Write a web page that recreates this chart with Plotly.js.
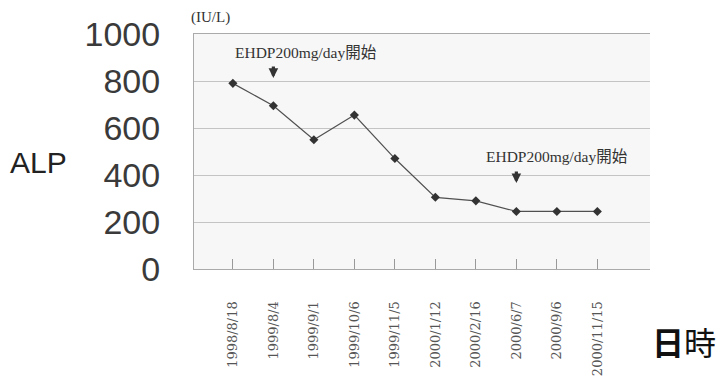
<!DOCTYPE html>
<html>
<head>
<meta charset="utf-8">
<script src="https://cdn.plot.ly/plotly-3.0.1.min.js"></script>
<style>html,body{margin:0;padding:0;background:#fff;}#chart{width:719px;height:377px;}</style>
</head>
<body>
<div id="chart"></div>
<script>
const dates = ["1998/8/18","1999/8/4","1999/9/1","1999/10/6","1999/11/5","2000/1/12","2000/2/16","2000/6/7","2000/9/6","2000/11/15"];
const alp = [790, 695, 550, 655, 470, 305, 290, 245, 245, 245];
const yTicks = [0, 200, 400, 600, 800, 1000];
const noteText = "EHDP200mg/day開始";
const noteDates = ["1999/8/4", "2000/6/7"];

const serif = "'Liberation Serif', 'DejaVu Serif', 'Noto Sans CJK JP', serif";
const dserif = "'DejaVu Serif', 'Liberation Serif', serif";
const sans = "'Liberation Sans', Arial, sans-serif";

const trace = {
  x: dates, y: alp, type: "scatter", mode: "lines+markers",
  line: {color: "#505050", width: 1.2},
  marker: {symbol: "diamond", size: 7, color: "#333"},
  hoverinfo: "skip"
};

const annotations = [
  {xref: "paper", yref: "paper", x: -0.34, y: 0.455, xanchor: "center", yanchor: "middle",
   text: "ALP", showarrow: false, font: {family: sans, size: 30, color: "#222"}},
  {xref: "paper", yref: "paper", x: 1.075, y: -0.306, xanchor: "center", yanchor: "middle",
   text: "<b>日</b>時", showarrow: false, font: {family: "'Noto Sans CJK JP', sans-serif", size: 32, color: "#111"}},
  {xref: "paper", yref: "paper", x: -0.01, y: 1.072, xanchor: "left", yanchor: "middle",
   text: "(IU/L)", showarrow: false, font: {family: serif, size: 15, color: "#333"}},
  {xref: "x", yref: "y", x: 1.8, y: 923, xanchor: "center", yanchor: "middle",
   text: noteText, showarrow: false, font: {family: serif, size: 15.5, color: "#333"}},
  {xref: "x", yref: "y", x: 8.0, y: 477, xanchor: "center", yanchor: "middle",
   text: noteText, showarrow: false, font: {family: serif, size: 15.5, color: "#333"}},
  {xref: "x", yref: "y", x: noteDates[0], y: 813, ax: 0, ay: -13, text: "", showarrow: true,
   arrowhead: 2, arrowsize: 0.6, arrowwidth: 3.2, arrowcolor: "#333"},
  {xref: "x", yref: "y", x: noteDates[1], y: 366, ax: 0, ay: -13, text: "", showarrow: true,
   arrowhead: 2, arrowsize: 0.6, arrowwidth: 3.2, arrowcolor: "#333"}
];

const layout = {
  width: 719, height: 377,
  margin: {l: 194, r: 69, t: 34, b: 108},
  paper_bgcolor: "#fff",
  plot_bgcolor: "#f7f7f7",
  showlegend: false,
  xaxis: {
    type: "category", categoryorder: "array", categoryarray: dates,
    range: [-0.96, 10.3],
    showgrid: false, zeroline: false,
    showline: true, linecolor: "#aaa", linewidth: 1, mirror: true,
    ticks: "inside", ticklen: 10, tickcolor: "#999", tickwidth: 1,
    tickangle: -90, ticklabelstandoff: 26,
    tickfont: {family: dserif, size: 13, color: "#555"}
  },
  yaxis: {
    range: [0, 1000], tickvals: yTicks, ticktext: yTicks.map(String),
    showgrid: true, gridcolor: "#c4c4c4", gridwidth: 1, zeroline: false,
    showline: true, linecolor: "#aaa", linewidth: 1,
    ticks: "", ticklabelstandoff: 26,
    tickfont: {family: sans, size: 34, color: "#3a3a3a"}
  },
  annotations: annotations
};

Plotly.newPlot("chart", [trace], layout, {displayModeBar: false, staticPlot: true});
</script>
</body>
</html>
